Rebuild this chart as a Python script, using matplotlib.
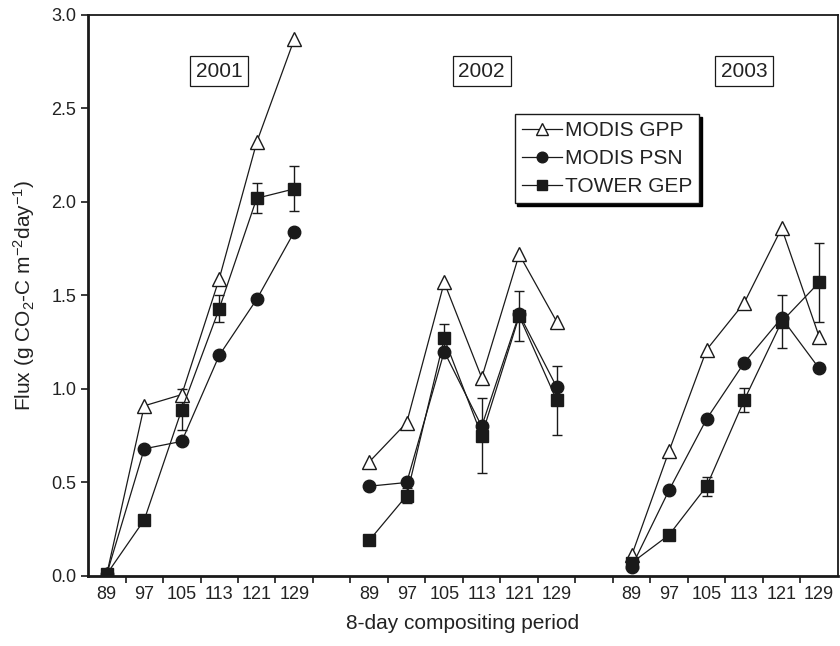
import matplotlib
matplotlib.use('Agg')
import matplotlib.pyplot as plt
import numpy as np

plt.rcParams['font.family'] = ['Liberation Sans', 'DejaVu Sans']
plt.rcParams['mathtext.default'] = 'regular'

# datos
years = ['2001', '2002', '2003']
periods = [89, 97, 105, 113, 121, 129]

gpp = {
    '2001': [0.01, 0.91, 0.97, 1.59, 2.32, 2.87],
    '2002': [0.61, 0.82, 1.57, 1.06, 1.72, 1.36],
    '2003': [0.11, 0.67, 1.21, 1.46, 1.86, 1.28],
}
psn = {
    '2001': [0.01, 0.68, 0.72, 1.18, 1.48, 1.84],
    '2002': [0.48, 0.50, 1.20, 0.80, 1.40, 1.01],
    '2003': [0.05, 0.46, 0.84, 1.14, 1.38, 1.11],
}
gep = {
    '2001': [0.01, 0.30, 0.89, 1.43, 2.02, 2.07],
    '2002': [0.19, 0.43, 1.27, 0.75, 1.39, 0.94],
    '2003': [0.07, 0.22, 0.48, 0.94, 1.36, 1.57],
}
gep_err = {
    '2001': [0.0, 0.0, 0.11, 0.07, 0.08, 0.12],
    '2002': [0.0, 0.04, 0.08, 0.20, 0.135, 0.185],
    '2003': [0.0, 0.0, 0.05, 0.065, 0.14, 0.21],
}

col = '#1a1a1a'
fig = plt.figure(figsize=(8.4, 6.46), dpi=100)
ax = fig.add_axes([0.1048, 0.1084, 0.8927, 0.8684])

for i, yr in enumerate(years):
    x = np.arange(len(periods)) + i * 7 + 0.5
    ax.plot(x, gpp[yr], marker='^', color=col, lw=0.9, ms=10, mfc='white',
            mec=col, mew=1.0, label='MODIS GPP' if i == 0 else None, zorder=3)
    ax.plot(x, psn[yr], marker='o', color=col, lw=0.9, ms=9, mfc=col,
            mec=col, label='MODIS PSN' if i == 0 else None, zorder=4)
    err = np.array(gep_err[yr])
    ax.errorbar(x, gep[yr], yerr=np.where(err > 0, err, np.nan), fmt='none',
                ecolor=col, elinewidth=1.0, capsize=3.6, capthick=1.0, zorder=2)
    ax.plot(x, gep[yr], marker='s', color=col, lw=0.9, ms=8.5, mfc=col,
            mec=col, label='TOWER GEP' if i == 0 else None, zorder=5)

# etiquetas de anio
for i, yr in enumerate(years):
    ax.text(i * 7 + 3.5, 2.70, yr, ha='center', va='center', fontsize=15,
            color='#222222',
            bbox=dict(boxstyle='square,pad=0.28', fc='white', ec=col, lw=0.9))

ax.set_xlim(0, 20)
ax.set_ylim(0, 3.0)
ax.set_yticks(np.arange(0, 3.01, 0.5))
ax.set_yticklabels([f'{v:.1f}' for v in np.arange(0, 3.01, 0.5)])

ax.set_xticks(np.arange(1, 20))
ax.set_xticklabels([])
centers = []
labels = []
for i in range(3):
    for j, p in enumerate(periods):
        centers.append(i * 7 + j + 0.5)
        labels.append(str(p))
ax.set_xticks(centers, minor=True)
ax.set_xticklabels(labels, minor=True)
ax.tick_params(axis='x', which='minor', length=0, labelsize=13, pad=7, labelcolor='#222222')
ax.tick_params(axis='x', which='major', direction='out', length=5, width=1.2, color=col)
ax.tick_params(axis='y', direction='out', length=5, width=1.2, color=col, labelsize=13,
               labelcolor='#222222')

for s in ax.spines.values():
    s.set_linewidth(1.3)
    s.set_color(col)
ax.spines['bottom'].set_linewidth(2.0)
ax.spines['left'].set_linewidth(2.0)

ax.set_xlabel('8-day compositing period', fontsize=15, color='#222222', labelpad=8)
ax.set_ylabel('Flux (g CO$_2$-C m$^{-2}$day$^{-1}$)', fontsize=15, color='#222222', labelpad=10)

leg = ax.legend(loc='upper left', bbox_to_anchor=(0.569, 0.8235), fontsize=15,
                frameon=True, fancybox=False, edgecolor=col, framealpha=1,
                handlelength=1.9, handletextpad=0.15, labelspacing=0.42,
                borderpad=0.35, borderaxespad=0, markerscale=0.85,
                shadow={'color': 'black', 'alpha': 1.0})
leg.get_frame().set_linewidth(1.0)
for t in leg.get_texts():
    t.set_color('#222222')

fig.savefig('out.png', dpi=100)
